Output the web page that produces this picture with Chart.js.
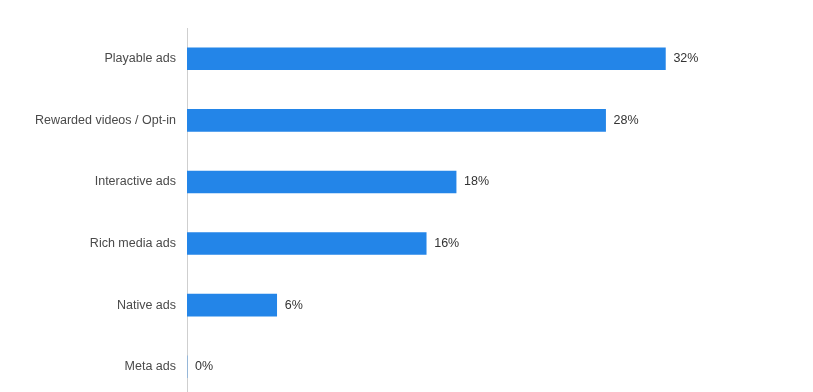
<!DOCTYPE html>
<html>
<head>
<meta charset="utf-8">
<script src="https://cdn.jsdelivr.net/npm/chart.js@4/dist/chart.umd.min.js"></script>
<style>
  html, body { margin: 0; padding: 0; background: #fff; overflow: hidden; }
  canvas { display: block; }
</style>
</head>
<body>
<canvas id="myChart" width="813" height="416"></canvas>
<script>
'use strict';

// data
var categories = ['Playable ads', 'Rewarded videos / Opt-in', 'Interactive ads', 'Rich media ads', 'Native ads', 'Meta ads'];
var shares = [32, 28, 18, 16, 6, 0];

var font = '"Liberation Sans", Arial, sans-serif';

// draws the % value just past the end of each bar
var valueLabels = {
  id: 'valueLabels',
  afterDatasetsDraw: function(chart) {
    var ctx = chart.ctx;
    var meta = chart.getDatasetMeta(0);
    ctx.save();
    ctx.font = '12.5px ' + font;
    ctx.fillStyle = '#333';
    ctx.textAlign = 'left';
    ctx.textBaseline = 'middle';
    meta.data.forEach(function(bar, i) {
      ctx.fillText(shares[i] + '%', bar.x + 8, bar.y);
    });
    ctx.restore();
  }
};

var ctx = document.getElementById('myChart').getContext('2d');
var chart = new Chart(ctx, {
  type: 'bar',
  data: {
    labels: categories,
    datasets: [{
      data: shares,
      backgroundColor: '#2385e8',
      barThickness: 22
    }]
  },
  options: {
    indexAxis: 'y',
    responsive: false,
    animation: false,
    layout: { padding: { top: 28, right: 28, bottom: 1, left: 0 } },
    plugins: {
      legend: { display: false },
      tooltip: { enabled: false }
    },
    scales: {
      x: {
        display: false,
        min: 0,
        max: 40
      },
      y: {
        afterFit: function(scale) { scale.width = 187; },
        grid: { display: false, drawTicks: false },
        border: { display: true, color: '#cfcfcf', width: 1 },
        ticks: {
          padding: 11,
          color: '#4a4a4a',
          font: { family: font, size: 12.5 }
        }
      }
    }
  },
  plugins: [valueLabels]
});
</script>
</body>
</html>
